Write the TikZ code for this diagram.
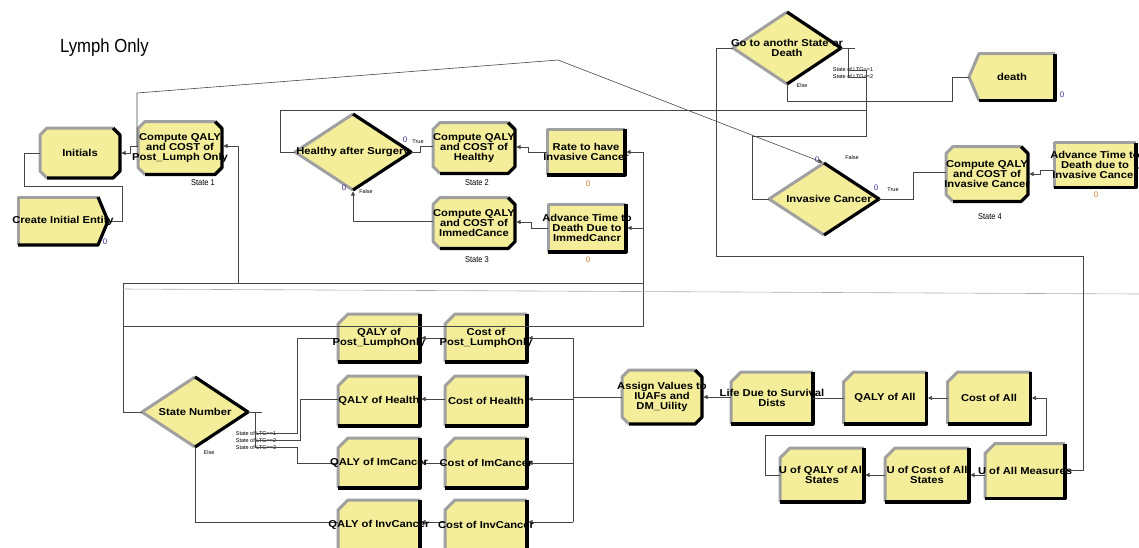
\documentclass[tikz,border=0pt]{standalone}
\usepackage{fontspec}
\setmainfont{Liberation Sans}
\newfontfamily\arena[FakeStretch=1.12]{Liberation Sans}
\newfontfamily\narrowf[FakeStretch=0.88]{Liberation Sans}
\usetikzlibrary{arrows.meta,calc}
\pgfdeclarelayer{fg}
\pgfsetlayers{main,fg}
\definecolor{modyellow}{RGB}{244,238,155}
\definecolor{bevel}{RGB}{160,160,160}
\definecolor{zeroorange}{RGB}{205,120,45}
\definecolor{zeropurple}{RGB}{70,50,150}
\definecolor{linecol}{RGB}{70,70,70}
\tikzset{
  modfill/.style={fill=modyellow},
  graybord/.style={draw=bevel, line width=3pt, line join=round},
  blackbord/.style={draw=black, line width=3.2pt, line join=round},
  anchorbox/.style={rectangle, draw=none, inner sep=0pt, outer sep=0pt},
  modtext/.style={align=center, inner sep=0pt, font=\arena\bfseries\fontsize{10}{10}\selectfont},
  conn/.style={draw=linecol, line width=0.6pt},
  arr/.style={-{Triangle[width=4pt,length=4pt]}, shorten >=1.5pt},
  statelbl/.style={inner sep=0pt, font=\narrowf\fontsize{8.5}{9}\selectfont},
  zeroO/.style={inner sep=0pt, text=zeroorange, font=\fontsize{8}{8}\selectfont},
  zeroP/.style={inner sep=0pt, text=zeropurple, font=\fontsize{8}{8}\selectfont},
  tinylbl/.style={inner sep=0pt, font=\fontsize{5.5}{5.5}\selectfont},
}
% name, x, y, w, h, text
\newcommand\modlabel[6]{%
  \node[anchorbox, minimum width=#4pt, minimum height=#5pt] (#1) at (#2,#3) {};
  \begin{pgfonlayer}{fg}\node[modtext] (#1t) at (#2,#3) {#6};\end{pgfonlayer}}
\newcommand\assignmod[6]{%
  \begin{scope}[shift={(#2,#3)}]
    \pgfmathsetmacro{\mhw}{#4/2}\pgfmathsetmacro{\mhh}{#5/2}
    \fill[modfill] (-\mhw,-\mhh+7) -- (-\mhw+7,-\mhh) -- (\mhw-7,-\mhh) -- (\mhw,-\mhh+7) -- (\mhw,\mhh-7) -- (\mhw-7,\mhh) -- (-\mhw+7,\mhh) -- (-\mhw,\mhh-7) -- cycle;
    \draw[graybord] (\mhw-7,-\mhh) -- (-\mhw+7,-\mhh) -- (-\mhw,-\mhh+7) -- (-\mhw,\mhh-7) -- (-\mhw+7,\mhh);
    \draw[blackbord] (\mhw-7,-\mhh) -- (\mhw,-\mhh+7) -- (\mhw,\mhh-7) -- (\mhw-7,\mhh) -- (-\mhw+7,\mhh);
  \end{scope}
  \modlabel{#1}{#2}{#3}{#4}{#5}{#6}}
\newcommand\processmod[6]{%
  \begin{scope}[shift={(#2,#3)}]
    \pgfmathsetmacro{\mhw}{#4/2}\pgfmathsetmacro{\mhh}{#5/2}
    \fill[modfill] (-\mhw,-\mhh) rectangle (\mhw,\mhh);
    \draw[graybord] (-\mhw,\mhh) -- (-\mhw,-\mhh) -- (\mhw,-\mhh);
    \draw[blackbord] (\mhw,-\mhh) -- (\mhw,\mhh) -- (-\mhw,\mhh);
  \end{scope}
  \modlabel{#1}{#2}{#3}{#4}{#5}{#6}}
\newcommand\recordmod[6]{%
  \begin{scope}[shift={(#2,#3)}]
    \pgfmathsetmacro{\mhw}{#4/2}\pgfmathsetmacro{\mhh}{#5/2}
    \fill[modfill] (-\mhw,-\mhh+10) -- (-\mhw+10,-\mhh) -- (\mhw,-\mhh) -- (\mhw,\mhh) -- (-\mhw,\mhh) -- cycle;
    \draw[graybord] (-\mhw,\mhh) -- (-\mhw,-\mhh+10) -- (-\mhw+10,-\mhh) -- (\mhw,-\mhh);
    \draw[blackbord] (\mhw,-\mhh) -- (\mhw,\mhh) -- (-\mhw,\mhh);
  \end{scope}
  \modlabel{#1}{#2}{#3}{#4}{#5}{#6}}
\newcommand\decidemod[6]{%
  \begin{scope}[shift={(#2,#3)}]
    \pgfmathsetmacro{\mhw}{#4/2}\pgfmathsetmacro{\mhh}{#5/2}
    \fill[modfill] (0,-\mhh) -- (\mhw,0) -- (0,\mhh) -- (-\mhw,0) -- cycle;
    \draw[graybord] (0,\mhh) -- (-\mhw,0) -- (0,-\mhh);
    \draw[blackbord] (0,-\mhh) -- (\mhw,0) -- (0,\mhh);
  \end{scope}
  \modlabel{#1}{#2}{#3}{#4}{#5}{#6}}
\newcommand\createmod[6]{%
  \begin{scope}[shift={(#2,#3)}]
    \pgfmathsetmacro{\mhw}{#4/2}\pgfmathsetmacro{\mhh}{#5/2}
    \fill[modfill] (-\mhw,-\mhh) -- (\mhw-10,-\mhh) -- (\mhw,0) -- (\mhw-10,\mhh) -- (-\mhw,\mhh) -- cycle;
    \draw[graybord] (-\mhw,\mhh) -- (-\mhw,-\mhh) -- (\mhw-10,-\mhh);
    \draw[blackbord] (\mhw-10,-\mhh) -- (\mhw,0) -- (\mhw-10,\mhh) -- (-\mhw,\mhh);
  \end{scope}
  \modlabel{#1}{#2}{#3}{#4}{#5}{#6}}
\newcommand\disposemod[6]{%
  \begin{scope}[shift={(#2,#3)}]
    \pgfmathsetmacro{\mhw}{#4/2}\pgfmathsetmacro{\mhh}{#5/2}
    \fill[modfill] (-\mhw+10,-\mhh) -- (\mhw,-\mhh) -- (\mhw,\mhh) -- (-\mhw+10,\mhh) -- (-\mhw,0) -- cycle;
    \draw[graybord] (-\mhw+10,\mhh) -- (-\mhw,0) -- (-\mhw+10,-\mhh) -- (\mhw,-\mhh);
    \draw[blackbord] (\mhw,-\mhh) -- (\mhw,\mhh) -- (-\mhw+10,\mhh);
  \end{scope}
  \modlabel{#1}{#2}{#3}{#4}{#5}{#6}}
\begin{document}
\begin{tikzpicture}[x=1pt,y=-1pt]
\useasboundingbox (0,0) rectangle (1139,547);
\node[anchor=west, inner sep=0pt, font=\narrowf\fontsize{19}{19}\selectfont] (title) at (60,48) {Lymph Only};

% ---------- modules ----------
\createmod{ci}{63}{221}{90}{48}{Create Initial Entity}
\assignmod{init}{80}{153}{80}{50}{Initials}
\assignmod{c1}{180}{148}{84}{53}{Compute QALY\\and COST of\\Post\_Lumph Only}
\decidemod{hs}{353}{152}{116}{76}{Healthy after Surgery}
\assignmod{c2}{474}{148}{82}{51}{Compute QALY\\and COST of\\Healthy}
\assignmod{c3}{474}{223}{82}{51}{Compute QALY\\and COST of\\ImmedCance}
\processmod{rate}{586}{152}{78}{46}{Rate to have\\Invasive Cancer}
\processmod{adv1}{587}{228}{78}{48}{Advance Time to\\Death Due to\\ImmedCancr}
\decidemod{go}{787}{48}{108}{72}{Go to anothr State or\\Death}
\disposemod{death}{1012}{77}{86}{47}{death}
\decidemod{ic}{824}{199}{110}{72}{\hspace*{10pt}Invasive Cancer}
\assignmod{c4}{987}{174}{82}{55}{Compute QALY\\and COST of\\Invasive Cancer}
\processmod{adv2}{1095}{165}{82}{45}{Advance Time to\\Death due to\\Invasive Cancer}
\decidemod{sn}{195}{412}{106}{70}{State Number}
\recordmod{qpl}{379}{338}{82}{48}{QALY of\\Post\_LumphOnly}
\recordmod{cpl}{486}{338}{82}{48}{Cost of\\Post\_LumphOnly}
\recordmod{qh}{379}{401}{82}{50}{QALY of Health}
\recordmod{ch}{486}{401}{82}{50}{Cost of Health}
\recordmod{qim}{379}{463}{82}{50}{QALY of ImCancer}
\recordmod{cim}{486}{463}{82}{50}{Cost of ImCancer}
\recordmod{qinv}{379}{525}{82}{50}{QALY of InvCancer}
\recordmod{cinv}{486}{525}{82}{50}{Cost of InvCancer}
\assignmod{asg}{662}{397}{80}{54}{Assign Values to\\IUAFs and\\DM\_Uility}
\recordmod{life}{772}{398}{82}{52}{Life Due to Survival\\Dists}
\recordmod{qall}{885}{398}{83}{52}{QALY of All}
\recordmod{call}{989}{398}{83}{52}{Cost of All}
\recordmod{uq}{822}{475}{84}{54}{U of QALY of All\\States}
\recordmod{uc}{927}{475}{84}{54}{U of Cost of All\\States}
\recordmod{um}{1025}{471}{80}{55}{U of All Measures}

% ---------- labels ----------
\node[statelbl] (s1) at (203,183) {State 1};
\node[statelbl] (s2) at (477,183) {State 2};
\node[statelbl] (s3) at (477,260) {State 3};
\node[statelbl] (s4) at (990,217) {State 4};
\node[zeroO] (z1) at (588,184) {0};
\node[zeroO] (z2) at (588,260) {0};
\node[zeroO] (z3) at (1096,195) {0};
\node[zeroP] (z4) at (105,242) {0};
\node[zeroP] (z5) at (1062,95) {0};
\node[zeroP] (z6) at (405,140) {0};
\node[zeroP] (z7) at (344,188) {0};
\node[zeroP] (z8) at (817,160) {0};
\node[zeroP] (z9) at (876,188) {0};
\node[tinylbl] (t1) at (418,142) {True};
\node[tinylbl] (t2) at (366,192) {False};
\node[tinylbl] (t3) at (852,158) {False};
\node[tinylbl] (t4) at (893,190) {True};
\node[tinylbl] (t5) at (802,86) {Else};
\node[tinylbl] (t6) at (209,453) {Else};
\node[tinylbl] (g1) at (853,70) {State of LTG==1};
\node[tinylbl] (g2) at (853,77) {State of LTG==2};
\node[tinylbl] (n1) at (256,434) {State of LTG==1};
\node[tinylbl] (n2) at (256,441) {State of LTG==2};
\node[tinylbl] (n3) at (256,448) {State of LTG==3};

% ---------- connectors ----------
\coordinate (jA) at (123,283);
\coordinate (jB) at (123,326);
\coordinate (jC) at (123,289);
\coordinate (edgeR) at (1139,294);
\coordinate (edgeA) at (1139,168);
\coordinate (bus) at (573,397);

\draw[conn] (ci.east) -- (122,221) -- (122,186) -- (24,186) -- (24,153) -- (init.west);
\draw[conn,arr] (c1.west |- 0,146) -- (130,146) -- (130,153) -- (init.east);
\draw[conn,arr] (c1.west |- 0,146) -- (137,146) -- (137,93) -- (558,60) -- (ic.north);
\draw[conn,arr] (sn.west) -- (123,412) -- (jA) -- (238,283) -- (238,146) -- (c1.east |- 0,146);
\draw[conn,arr] (jA) -- (643,283) -- (643,152) -- (rate.east);
\draw[conn,arr] (jB) -- (643,326) -- (643,228) -- (adv1.east);
\draw[conn,draw=linecol!45] (jC) -- (edgeR);

\draw[conn] (go.east) -- (855,48);
\draw[conn] (848,48) -- (848,78);
\draw[conn] (848,70) -- (866,70) -- (866,110) -- (280,110) -- (280,152) -- (hs.west);
\draw[conn] (848,77) -- (866,77) -- (866,136) -- (752,136) -- (752,199) -- (ic.west);
\draw[conn] (go.south) -- (787,101) -- (952,101) -- (952,77) -- (death.west);

\draw[conn] (hs.east) -- (420,152) -- (420,146) -- (c2.west |- 0,146);
\draw[conn,arr] (c3.west |- 0,221) -- (hs.south |- 0,221) -- (hs.south);
\draw[conn,arr] (rate.west) -- (528,152) -- (528,147) -- (c2.east |- 0,147);
\draw[conn,arr] (adv1.west) -- (531,228) -- (531,222) -- (c3.east |- 0,222);
\draw[conn] (ic.east) -- (913,199) -- (913,172) -- (c4.west |- 0,172);
\draw[conn,arr] (adv2.west |- 0,170) -- (1040,170) -- (1040,174) -- (c4.east);
\draw[conn,arr] (edgeA) -- (adv2.east |- edgeA);
\draw[conn] (um.east |- 0,470) -- (1083,470) -- (1083,256) -- (716,256) -- (716,48) -- (go.west);

\draw[conn] (sn.east) -- (262,412);
\draw[conn] (255,412) -- (255,448);
\draw[conn] (255,433) -- (297,433) -- (297,338) -- (qpl.west);
\draw[conn] (255,440) -- (300,440) -- (300,399) -- (qh.west |- 0,399);
\draw[conn] (255,447) -- (297,447) -- (297,463) -- (qim.west);
\draw[conn] (sn.south) -- (sn.south |- 0,522) -- (qinv.west |- 0,522);

\draw[conn,arr] (cpl.west) -- (qpl.east);
\draw[conn,arr] (ch.west |- 0,399) -- (qh.east |- 0,399);
\draw[conn,arr] (cim.west) -- (qim.east);
\draw[conn,arr] (cinv.west |- 0,522) -- (qinv.east |- 0,522);
\draw[conn] (573,338) -- (573,522);
\draw[conn,arr] (573,338) -- (cpl.east);
\draw[conn,arr] (573,399) -- (ch.east |- 0,399);
\draw[conn,arr] (573,463) -- (cim.east);
\draw[conn,arr] (573,522) -- (cinv.east |- 0,522);
\draw[conn] (bus) -- (asg.west);
\draw[conn,arr] (life.west |- asg.east) -- (asg.east);
\draw[conn] (qall.west) -- (life.east);
\draw[conn,arr] (call.west) -- (qall.east);
\draw[conn,arr] (uq.west) -- (765,475) -- (765,435) -- (1046,435) -- (1046,398) -- (call.east);
\draw[conn,arr] (uc.west) -- (uq.east);
\draw[conn,arr] (um.west |- uc.east) -- (uc.east);
\end{tikzpicture}
\end{document}
